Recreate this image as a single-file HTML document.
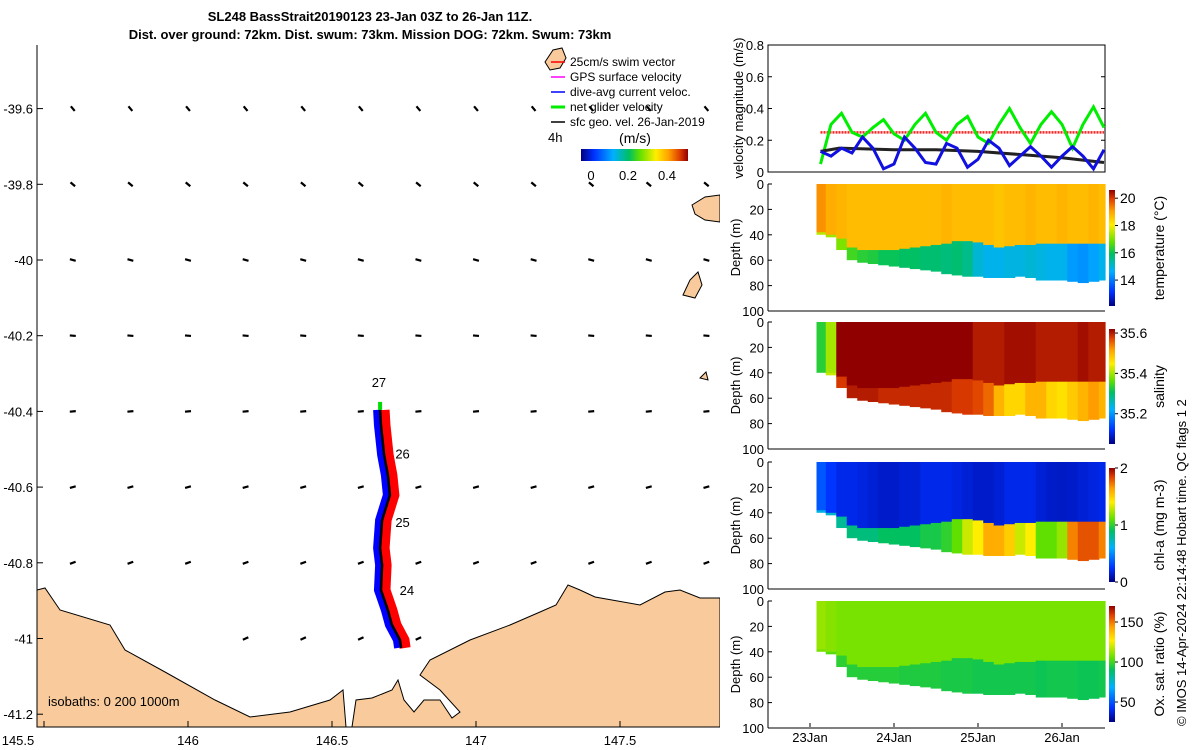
<!DOCTYPE html>
<html><head><meta charset="utf-8"><style>
body{margin:0;background:#fff}
svg{display:block;font-family:"Liberation Sans","DejaVu Sans",sans-serif}
</style></head><body>
<svg id="fig" width="1200" height="750" viewBox="0 0 1200 750" xmlns="http://www.w3.org/2000/svg">
<defs>
<linearGradient id="jetH" x1="0" y1="0" x2="1" y2="0">
<stop offset="0" stop-color="#000080"/><stop offset="0.12" stop-color="#0030ff"/><stop offset="0.3" stop-color="#00b0ff"/><stop offset="0.45" stop-color="#00c060"/><stop offset="0.55" stop-color="#60e000"/><stop offset="0.7" stop-color="#ffee00"/><stop offset="0.82" stop-color="#ffa000"/><stop offset="0.92" stop-color="#e04000"/><stop offset="1" stop-color="#900000"/>
</linearGradient>
<linearGradient id="jetV" x1="0" y1="1" x2="0" y2="0">
<stop offset="0" stop-color="#000080"/><stop offset="0.12" stop-color="#0030ff"/><stop offset="0.3" stop-color="#00b0ff"/><stop offset="0.45" stop-color="#00c060"/><stop offset="0.55" stop-color="#60e000"/><stop offset="0.7" stop-color="#ffee00"/><stop offset="0.82" stop-color="#ffa000"/><stop offset="0.92" stop-color="#e04000"/><stop offset="1" stop-color="#900000"/>
</linearGradient>
<clipPath id="mapclip"><rect x="37" y="45" width="683" height="682"/></clipPath>
</defs>
<text x="370" y="21" font-size="13" font-weight="bold" text-anchor="middle">SL248 BassStrait20190123 23-Jan 03Z to 26-Jan 11Z.</text>
<text x="370" y="39" font-size="13" font-weight="bold" text-anchor="middle">Dist. over ground: 72km. Dist. swum: 73km. Mission DOG: 72km. Swum: 73km</text>
<g id="map"></g>
<g id="right"></g>
<text transform="translate(1186,726) rotate(-90)" font-size="13">© IMOS 14-Apr-2024 22:14:48 Hobart time. QC flags 1  2</text>
</svg>
<script>
// ---------- MAP DATA ----------
const lonTicks=[145.5,146,146.5,147,147.5];
const latTicks=[-39.6,-39.8,-40,-40.2,-40.4,-40.6,-40.8,-41,-41.2];
const trackLon=[146.667,146.670,146.681,146.694,146.701,146.674,146.667,146.674,146.670,146.694,146.708,146.736,146.740];
const trackLat=[-40.396,-40.436,-40.515,-40.568,-40.621,-40.687,-40.761,-40.806,-40.872,-40.925,-40.964,-41.004,-41.025];
const dayLabels=["27","26","25","24"];
const dayLabelLon=[146.663,146.745,146.745,146.76];
const dayLabelLat=[-40.335,-40.525,-40.705,-40.885];
const vecLon=[145.6,145.8,146.0,146.2,146.4,146.6,146.8,147.0,147.2,147.4,147.6,147.8];
const vecLat=[-39.6,-39.8,-40.0,-40.2,-40.4,-40.6,-40.8,-41.0];
const vecAngle=[-50,-40,-15,-5,5,15,20,25];
// ---------- TIME SERIES DATA ----------
const dayTicks=[23,24,25,26];
const dayTickLabels=["23Jan","24Jan","25Jan","26Jan"];
const t=[23.125,23.25,23.375,23.5,23.625,23.75,23.875,24.0,24.125,24.25,24.375,24.5,24.625,24.75,24.875,25.0,25.125,25.25,25.375,25.5,25.625,25.75,25.875,26.0,26.125,26.25,26.375,26.5];
const netVel=[0.05,0.3,0.37,0.25,0.22,0.28,0.33,0.24,0.2,0.3,0.37,0.25,0.2,0.3,0.35,0.22,0.18,0.3,0.4,0.28,0.18,0.3,0.38,0.3,0.15,0.3,0.41,0.28];
const curVel=[0.13,0.1,0.15,0.12,0.22,0.15,0.02,0.05,0.22,0.15,0.06,0.05,0.18,0.15,0.03,0.08,0.2,0.15,0.04,0.1,0.16,0.1,0.03,0.1,0.16,0.1,0.02,0.14];
const geoT=[23.125,23.35,24.0,24.5,25.0,25.5,26.0,26.5];
const geoVel=[0.13,0.15,0.14,0.14,0.13,0.11,0.09,0.06];
const swimVel=[0.25,0.25];
const swimT=[23.125,26.5];
const bottomDepth=[40,42,52,60,62,63,64,65,66,67,68,69,71,72,73,73,74,74,74,73,74,76,76,76,77,78,77,76];
const mixedDepth=[38,40,43,50,52,52,52,52,51,50,49,48,47,45,45,46,48,50,49,48,48,47,47,47,47,47,47,47];
const tempUpper=[19.2,18.9,18.8,18.7,18.7,18.7,18.7,18.7,18.7,18.7,18.7,18.7,18.8,18.7,18.7,18.7,18.7,18.6,18.7,18.7,18.8,18.7,18.7,18.8,18.7,18.7,18.8,18.7];
const tempLower=[17.5,17.3,17.0,16.5,16.3,16.2,16.0,16.0,15.9,15.9,15.8,15.8,15.7,15.8,15.6,15.0,14.8,14.8,14.9,14.9,15.0,14.9,14.8,14.8,14.4,14.3,14.5,14.8];
const salUpper=[35.33,35.4,35.62,35.63,35.63,35.63,35.63,35.63,35.63,35.63,35.63,35.63,35.63,35.63,35.62,35.6,35.6,35.6,35.61,35.61,35.61,35.6,35.6,35.6,35.6,35.61,35.6,35.6];
const salLower=[35.33,35.42,35.58,35.6,35.6,35.6,35.59,35.59,35.59,35.59,35.59,35.59,35.59,35.58,35.58,35.57,35.55,35.5,35.47,35.47,35.5,35.5,35.47,35.46,35.48,35.5,35.52,35.5];
const chlUpper=[0.35,0.25,0.2,0.2,0.18,0.16,0.14,0.14,0.16,0.16,0.2,0.2,0.2,0.18,0.16,0.14,0.14,0.16,0.2,0.2,0.2,0.16,0.14,0.13,0.14,0.16,0.18,0.2];
const chlLower=[0.65,0.7,0.8,0.85,0.85,0.85,0.9,0.9,0.9,0.9,0.95,0.95,1.0,1.1,1.3,1.4,1.6,1.6,1.5,1.3,1.4,1.1,1.1,1.2,1.7,1.8,1.8,1.7];
const oxUpper=[112,110,108,108,108,108,108,108,108,108,108,108,108,108,108,108,108,108,108,108,108,108,108,108,108,108,108,108];
const oxLower=[108,103,97,96,96,96,96,96,95,95,95,95,94,94,94,93,93,93,93,93,93,92,93,93,93,92,92,93];

const NS="http://www.w3.org/2000/svg";
function mk(tag,attrs,parent){const e=document.createElementNS(NS,tag);for(const k in attrs)e.setAttribute(k,attrs[k]);parent.appendChild(e);return e;}
function txt(s,attrs,parent){const e=mk('text',attrs,parent);e.textContent=s;return e;}
const stops=[[0,[0,0,128]],[0.12,[0,48,255]],[0.3,[0,176,255]],[0.45,[0,192,96]],[0.55,[96,224,0]],[0.7,[255,238,0]],[0.82,[255,160,0]],[0.92,[224,64,0]],[1,[144,0,0]]];
function cmap(v,lo,hi){let f=(v-lo)/(hi-lo);f=Math.max(0,Math.min(1,f));for(let i=1;i<stops.length;i++){if(f<=stops[i][0]){const a=stops[i-1],b=stops[i];const r=(f-a[0])/(b[0]-a[0]);const c=a[1].map((x,j)=>Math.round(x+(b[1][j]-x)*r));return `rgb(${c[0]},${c[1]},${c[2]})`;}}return 'rgb(144,0,0)';}

// ---------- MAP ----------
const map=document.getElementById('map');
const X=lon=>188+(lon-146)*288;
const Y=lat=>260-(lat+40)*378.5;
const mg=mk('g',{'clip-path':'url(#mapclip)'},map);
const land1=mk('polygon',{points:"37,590 45,588 60,610 110,625 125,650 165,672 215,700 250,717 290,712 330,700 343,690 346,727 352,727 356,700 372,698 392,690 398,680 404,700 414,712 424,700 440,700 452,718 460,712 440,690 420,675 430,660 470,640 510,625 540,612 556,605 568,585 580,590 595,597 640,605 665,592 680,590 700,598 720,598 720,727 37,727",fill:'#f9cb9c',stroke:'#000','stroke-width':1},mg);


const isl=[[ "692,205 705,197 720,195 720,222 705,220 695,214"],["683,295 690,280 698,272 702,285 695,298"],["545,62 553,50 562,48 566,58 560,68 550,70"],["700,378 706,372 708,380"]];
isl.forEach((p,i)=>{const e=mk('polygon',{points:p[0],fill:'#f9cb9c',stroke:'#000','stroke-width':1},mg);

});
vecLat.forEach((la,ri)=>vecLon.forEach(lo=>{
  if(la<=-40.95 && (lo<146.1||lo>146.9)) return;
  const x=X(lo),y=Y(la),a=vecAngle[ri]*Math.PI/180,L=3;
  const e=mk('line',{x1:x-L*Math.cos(a),y1:y+L*Math.sin(a),x2:x+L*Math.cos(a),y2:y-L*Math.sin(a),stroke:'#000','stroke-width':2.2},mg);
  
  
}));
const tp=trackLon.map((lo,i)=>`${X(lo)},${Y(trackLat[i])}`).join(' ');
const trR=mk('polyline',{points:trackLon.map((lo,i)=>`${X(lo)+4},${Y(trackLat[i])}`).join(' '),fill:'none',stroke:'#ff0000','stroke-width':11},mg);


const trB=mk('polyline',{points:trackLon.map((lo,i)=>`${X(lo)-3},${Y(trackLat[i])}`).join(' '),fill:'none',stroke:'#0000ff','stroke-width':8},mg);


const trK=mk('polyline',{points:tp,fill:'none',stroke:'#000','stroke-width':2.5},mg);


mk('line',{x1:X(trackLon[0]),y1:Y(trackLat[0]),x2:X(trackLon[0]),y2:Y(trackLat[0])-8,stroke:'#00dd00','stroke-width':4},mg);
dayLabels.forEach((s,i)=>{const e=txt(s,{x:X(dayLabelLon[i]),y:Y(dayLabelLat[i]),'font-size':13,'text-anchor':'middle'},map);

});
const fr=mk('path',{d:'M37,45 V727 H720',fill:'none',stroke:'#000','stroke-width':1},map);


lonTicks.forEach(v=>{mk('line',{x1:X(v),y1:727,x2:X(v),y2:721,stroke:'#000'},map);
const e=txt(String(v),{x:v===145.5?18:X(v),y:745,'font-size':13,'text-anchor':'middle'},map);

});
latTicks.forEach(v=>{mk('line',{x1:37,y1:Y(v),x2:43,y2:Y(v),stroke:'#000'},map);
const e=txt(String(v),{x:33,y:Y(v)+5,'font-size':13,'text-anchor':'end'},map);

});
const iso=txt('isobaths: 0   200  1000m',{x:48,y:706,'font-size':13},map);


const legC=['#ff0000','#ff00ff','#0000ff','#00ee00','#000000'];
const legT=['25cm/s swim vector','GPS surface velocity','dive-avg current veloc.','net glider velocity','sfc geo. vel. 26-Jan-2019'];
legT.forEach((s,i)=>{const y=66+i*15;
mk('line',{x1:551,y1:y-4,x2:565,y2:y-4,stroke:legC[i],'stroke-width':i===3?3:1.5},map);
const e=txt(s,{x:570,y:y,'font-size':12},map);

});
txt('4h',{x:548,y:142,'font-size':13},map);
txt('(m/s)',{x:635,y:143,'font-size':14,'text-anchor':'middle'},map);
const cb=mk('rect',{x:581,y:149,width:107,height:12,fill:'url(#jetH)'},map);


['0','0.2','0.4'].forEach((s,i)=>txt(s,{x:[591,628,667][i],y:180,'font-size':13,'text-anchor':'middle'},map));

// ---------- RIGHT PANELS ----------
const R=document.getElementById('right');
const X0=768,X1=1105;
const TX=d=>810+(d-23)*84;
const vY=v=>172-v*(127/0.8);
const vb=mk('rect',{x:X0,y:45,width:X1-X0,height:127,fill:'none',stroke:'#000'},R);


[0,0.2,0.4,0.6,0.8].forEach(v=>{mk('line',{x1:X0,y1:vY(v),x2:X0+4,y2:vY(v),stroke:'#000'},R);mk('line',{x1:X1,y1:vY(v),x2:X1-4,y2:vY(v),stroke:'#000'},R);
txt(String(v),{x:764,y:vY(v)+5,'font-size':13,'text-anchor':'end'},R);});
txt('velocity magnitude (m/s)',{transform:`translate(743,108) rotate(-90)`,'font-size':13,'text-anchor':'middle'},R);
function line(ts,vs,col,w,name,dash){const e=mk('polyline',{points:ts.map((d,i)=>`${TX(d)},${vY(vs[i])}`).join(' '),fill:'none',stroke:col,'stroke-width':w},R);if(dash)e.setAttribute('stroke-dasharray',dash);

}
line(swimT,swimVel,'#ff2020',2.5,'swim-velocity-line','2,1');
line(t,netVel,'#00ee00',3,'net-glider-velocity-line');
line(geoT,geoVel,'#222',3,'geostrophic-velocity-line');
line(t,curVel,'#1010e0',3,'current-velocity-line');
const panels=[
 {top:184,up:tempUpper,lo:tempLower,min:12.1,max:20.6,ticks:[14,16,18,20],lab:['14','16','18','20'],name:'temperature',title:'temperature (°C)',cb:[190,306]},
 {top:322,up:salUpper,lo:salLower,min:35.05,max:35.62,ticks:[35.2,35.4,35.6],lab:['35.2','35.4','35.6'],name:'salinity',title:'salinity',cb:[329,444]},
 {top:462,up:chlUpper,lo:chlLower,min:0,max:2,ticks:[0,1,2],lab:['0','1','2'],name:'chl-a',title:'chl-a (mg m-3)',cb:[468,582]},
 {top:601,up:oxUpper,lo:oxLower,min:25,max:170,ticks:[50,100,150],lab:['50','100','150'],name:'oxygen',title:'Ox. sat. ratio (%)',cb:[606,722]}
];
const dw=TX(t[1])-TX(t[0]);
panels.forEach(p=>{
 const H=127,DY=dep=>p.top+dep*H/100;
 const g=mk('g',{},R);
 
 
 t.forEach((d,i)=>{
  const x=Math.max(TX(d)-dw/2,TX(t[0])-4), w=Math.min(TX(d)+dw/2,X1)-x;
  const c1=mk('rect',{x:x,y:DY(0),width:w+0.6,height:DY(mixedDepth[i])-DY(0)+0.5,fill:cmap(p.up[i],p.min,p.max)},g);
  
  
  const c2=mk('rect',{x:x,y:DY(mixedDepth[i]),width:w+0.6,height:DY(bottomDepth[i])-DY(mixedDepth[i]),fill:cmap(p.lo[i],p.min,p.max)},g);
  
  
 });
 mk('line',{x1:X0,y1:p.top,x2:X0,y2:p.top+H,stroke:'#000'},R);
 mk('line',{x1:X0,y1:p.top+H,x2:X1,y2:p.top+H,stroke:'#000'},R);
 [0,20,40,60,80,100].forEach(dep=>{mk('line',{x1:X0,y1:DY(dep),x2:X0+4,y2:DY(dep),stroke:'#000'},R);
  txt(String(dep),{x:764,y:DY(dep)+5,'font-size':13,'text-anchor':'end'},R);});
 txt('Depth (m)',{transform:`translate(740,${p.top+H/2}) rotate(-90)`,'font-size':13,'text-anchor':'middle'},R);
 const cbr=mk('rect',{x:1109,y:p.cb[0],width:6,height:p.cb[1]-p.cb[0],fill:'url(#jetV)'},R);
 
 
 const CY=v=>p.cb[1]-(v-p.min)/(p.max-p.min)*(p.cb[1]-p.cb[0]);
 p.ticks.forEach((v,i)=>{mk('line',{x1:1115,y1:CY(v),x2:1118,y2:CY(v),stroke:'#000'},R);
  txt(p.lab[i],{x:1120,y:CY(v)+5,'font-size':14},R);});
 txt(p.title,{transform:`translate(1164,${(p.cb[0]+p.cb[1])/2}) rotate(-90)`,'font-size':14,'text-anchor':'middle'},R);
});
dayTicks.forEach((d,i)=>{mk('line',{x1:TX(d),y1:727,x2:TX(d),y2:723,stroke:'#000'},R);
 const e=txt(dayTickLabels[i],{x:TX(d),y:742,'font-size':13,'text-anchor':'middle'},R);
 
 });
</script>
</body></html>
